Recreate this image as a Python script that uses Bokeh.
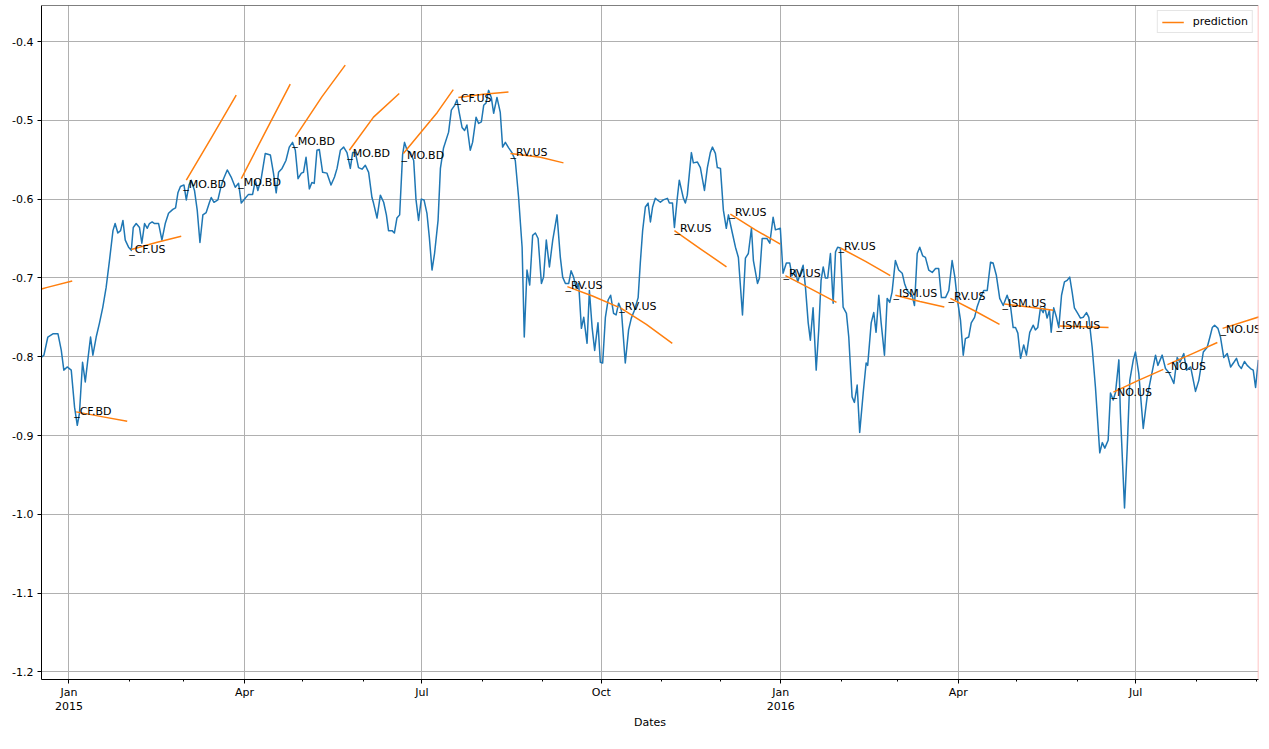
import numpy as np
import pandas as pd
from bokeh.plotting import figure
from bokeh.models import (Range1d, FixedTicker, PrintfTickFormatter, Span,
                          ColumnDataSource, Legend, LegendItem)
from bokeh.core.properties import value
from bokeh.embed import file_html
from bokeh.resources import INLINE

# ---------------- data ----------------
ORIGIN = "2015-01-01"   # series_day / pred_day / label_day are days since this date

series_day = [
    -14.2, -12.8, -10.8, -8.2, -5.6, -3.9, -2.6, -0.9, 1.2, 2.9,
    4.3, 5.4, 7.0, 8.4, 9.7, 11.1, 12.3, 14.0, 15.7, 17.4,
    19.1, 20.8, 22.6, 23.7, 25.1, 26.5, 27.7, 28.9, 30.6, 32.0,
    33.0, 34.5, 36.2, 37.4, 38.8, 40.2, 41.3, 42.7, 43.9, 46.0,
    47.7, 49.4, 51.1, 53.3, 54.7, 55.9, 57.2, 59.0, 60.2, 61.6,
    62.7, 64.4, 65.8, 67.2, 68.7, 70.4, 72.1, 73.0, 74.4, 76.4,
    77.8, 79.0, 81.2, 83.2, 85.3, 87.0, 88.4, 90.4, 92.1, 94.2,
    95.6, 96.9, 98.6, 100.7, 103.3, 104.9, 106.3, 107.5, 109.3, 111.3,
    113.0, 114.7, 116.1, 117.5, 119.2, 120.3, 121.6, 123.3, 124.6, 125.8,
    127.2, 128.4, 130.1, 132.3, 134.4, 136.2, 137.5, 139.2, 140.9, 142.6,
    144.3, 145.5, 146.9, 148.5, 150.3, 152.0, 153.7, 155.4, 156.2, 158.0,
    159.7, 161.4, 162.8, 163.9, 165.7, 166.9, 168.2, 169.6, 171.1, 172.1,
    173.4, 175.1, 176.8, 178.0, 179.3, 180.7, 182.1, 183.6, 184.8, 186.2,
    187.5, 189.3, 190.5, 192.1, 194.7, 196.1, 197.8, 199.0, 200.2, 201.6,
    202.9, 204.1, 205.8, 207.0, 208.8, 210.1, 211.5, 212.7, 213.9, 215.2,
    216.6, 217.8, 219.5, 221.2, 222.4, 223.8, 225.5, 227.2, 228.9, 230.6,
    232.4, 233.5, 234.9, 236.3, 237.8, 239.2, 240.6, 242.3, 243.4, 244.8,
    246.4, 248.1, 250.3, 252.0, 253.2, 254.6, 256.3, 257.5, 258.8, 260.1,
    261.4, 262.8, 264.0, 265.7, 266.9, 268.3, 269.6, 271.3, 272.5, 273.7,
    275.1, 276.5, 277.8, 279.3, 280.6, 281.9, 283.3, 285.3, 287.0, 288.4,
    290.0, 291.9, 293.0, 294.2, 295.6, 297.0, 298.2, 299.3, 300.7, 303.3,
    304.8, 306.9, 307.9, 309.5, 310.5, 312.0, 313.0, 315.1, 316.1, 317.1,
    319.2, 320.2, 322.3, 323.8, 325.9, 327.4, 328.9, 330.0, 331.5, 332.5,
    334.1, 335.6, 337.1, 338.2, 340.2, 341.8, 343.3, 345.4, 346.9, 348.4,
    350.0, 351.0, 353.1, 354.1, 355.5, 358.0, 359.4, 361.1, 362.3, 364.8,
    366.2, 367.9, 369.6, 370.8, 372.5, 373.7, 375.1, 376.5, 377.7, 379.1,
    380.2, 381.6, 383.2, 384.5, 385.7, 386.8, 387.9, 389.1, 390.5, 391.9,
    393.1, 394.2, 395.6, 397.0, 398.7, 399.9, 401.6, 402.8, 404.2, 405.5,
    407.3, 408.8, 409.6, 411.4, 412.7, 413.9, 415.3, 416.5, 418.2, 419.6,
    420.9, 422.1, 423.8, 425.5, 427.3, 428.5, 429.8, 431.0, 432.4, 433.6,
    435.0, 436.3, 437.8, 439.2, 440.9, 442.7, 444.4, 446.0, 447.4, 449.5,
    451.2, 452.9, 454.3, 455.5, 457.2, 458.6, 459.7, 461.4, 462.7, 464.4,
    465.7, 467.4, 469.1, 470.9, 472.6, 473.9, 475.6, 477.3, 479.1, 481.1,
    482.8, 484.2, 485.4, 486.6, 488.0, 489.6, 491.0, 492.7, 494.5, 495.6,
    496.8, 498.2, 499.6, 500.4, 501.6, 502.8, 503.7, 505.0, 506.4, 507.6,
    509.0, 510.5, 511.9, 513.2, 514.5, 515.6, 517.3, 518.7, 520.1, 521.8,
    523.0, 524.7, 526.4, 527.6, 528.6, 529.9, 531.2, 532.9, 534.1, 535.5,
    536.7, 538.4, 539.2, 540.3, 541.3, 542.7, 544.0, 545.8, 546.9, 548.6,
    550.9, 552.9, 554.6, 557.2, 558.4, 560.6, 562.3, 564.0, 565.2, 566.6,
    568.3, 569.7, 571.7, 573.1, 575.2, 577.7, 579.4, 581.7, 583.7, 585.1,
    586.3, 587.5, 589.2, 590.5, 592.2, 594.0, 595.7, 597.4, 598.7, 599.9,
    601.2, 602.8, 604.2, 605.9, 607.3, 608.5, 609.9,
]

series_value = [
    -0.801, -0.798, -0.775, -0.771, -0.771, -0.792, -0.817, -0.813, -0.817, -0.864,
    -0.887, -0.872, -0.807, -0.832, -0.804, -0.775, -0.798, -0.775, -0.757, -0.737,
    -0.712, -0.678, -0.640, -0.631, -0.643, -0.640, -0.627, -0.652, -0.661, -0.665,
    -0.636, -0.631, -0.636, -0.656, -0.631, -0.637, -0.631, -0.629, -0.631, -0.631,
    -0.652, -0.631, -0.618, -0.613, -0.611, -0.592, -0.584, -0.582, -0.601, -0.582,
    -0.576, -0.589, -0.614, -0.655, -0.620, -0.617, -0.604, -0.598, -0.604, -0.601,
    -0.586, -0.576, -0.563, -0.572, -0.585, -0.580, -0.605, -0.599, -0.594, -0.594,
    -0.576, -0.589, -0.574, -0.542, -0.544, -0.567, -0.592, -0.566, -0.561, -0.551,
    -0.534, -0.528, -0.538, -0.574, -0.567, -0.566, -0.547, -0.587, -0.579, -0.580,
    -0.538, -0.537, -0.566, -0.567, -0.582, -0.572, -0.561, -0.538, -0.534, -0.541,
    -0.561, -0.541, -0.541, -0.560, -0.562, -0.557, -0.566, -0.598, -0.605, -0.624,
    -0.595, -0.604, -0.620, -0.640, -0.640, -0.643, -0.624, -0.620, -0.544, -0.528,
    -0.538, -0.541, -0.551, -0.601, -0.627, -0.600, -0.601, -0.618, -0.648, -0.690,
    -0.669, -0.627, -0.561, -0.535, -0.515, -0.487, -0.481, -0.474, -0.491, -0.509,
    -0.513, -0.506, -0.538, -0.528, -0.496, -0.504, -0.502, -0.481, -0.478, -0.462,
    -0.471, -0.491, -0.471, -0.490, -0.534, -0.528, -0.535, -0.541, -0.551, -0.598,
    -0.661, -0.775, -0.690, -0.709, -0.646, -0.643, -0.650, -0.707, -0.699, -0.652,
    -0.686, -0.652, -0.620, -0.674, -0.699, -0.707, -0.707, -0.691, -0.699, -0.713,
    -0.707, -0.764, -0.750, -0.783, -0.716, -0.763, -0.792, -0.757, -0.807, -0.808,
    -0.750, -0.728, -0.722, -0.745, -0.747, -0.732, -0.741, -0.808, -0.766, -0.751,
    -0.741, -0.725, -0.681, -0.640, -0.610, -0.605, -0.629, -0.610, -0.599, -0.604,
    -0.601, -0.599, -0.605, -0.605, -0.636, -0.598, -0.576, -0.599, -0.605, -0.595,
    -0.541, -0.554, -0.553, -0.560, -0.589, -0.560, -0.541, -0.534, -0.542, -0.560,
    -0.561, -0.614, -0.637, -0.620, -0.643, -0.661, -0.674, -0.747, -0.675, -0.669,
    -0.637, -0.678, -0.707, -0.700, -0.650, -0.650, -0.656, -0.623, -0.639, -0.637,
    -0.694, -0.681, -0.681, -0.697, -0.690, -0.705, -0.694, -0.684, -0.712, -0.757,
    -0.779, -0.738, -0.817, -0.766, -0.703, -0.686, -0.700, -0.700, -0.669, -0.732,
    -0.667, -0.661, -0.662, -0.737, -0.745, -0.775, -0.851, -0.858, -0.836, -0.896,
    -0.846, -0.808, -0.811, -0.757, -0.744, -0.769, -0.722, -0.757, -0.798, -0.726,
    -0.731, -0.718, -0.678, -0.690, -0.694, -0.707, -0.716, -0.719, -0.722, -0.735,
    -0.669, -0.661, -0.672, -0.674, -0.690, -0.693, -0.688, -0.688, -0.725, -0.725,
    -0.716, -0.678, -0.699, -0.726, -0.754, -0.798, -0.777, -0.775, -0.757, -0.750,
    -0.737, -0.725, -0.716, -0.716, -0.680, -0.681, -0.697, -0.726, -0.735, -0.722,
    -0.735, -0.763, -0.763, -0.770, -0.802, -0.785, -0.798, -0.769, -0.760, -0.766,
    -0.763, -0.738, -0.744, -0.737, -0.751, -0.741, -0.769, -0.738, -0.750, -0.763,
    -0.722, -0.705, -0.703, -0.699, -0.719, -0.738, -0.745, -0.751, -0.750, -0.744,
    -0.750, -0.788, -0.839, -0.884, -0.922, -0.909, -0.916, -0.906, -0.846, -0.855,
    -0.845, -0.804, -0.872, -0.935, -0.992, -0.915, -0.830, -0.804, -0.794, -0.821,
    -0.891, -0.851, -0.830, -0.798, -0.811, -0.798, -0.815, -0.820, -0.826, -0.834,
    -0.801, -0.807, -0.796, -0.817, -0.813, -0.844, -0.830, -0.794, -0.788, -0.775,
    -0.763, -0.760, -0.764, -0.775, -0.801, -0.796, -0.813, -0.807, -0.802, -0.811,
    -0.815, -0.806, -0.811, -0.815, -0.817, -0.839, -0.804,
]

# prediction segments: start / middle / end (day, value)
pred_day_start = [-24.0, 3.7, 32.0, 60.2, 88.4, 116.1, 143.8, 171.5, 199.7, 226.4, 255.6, 282.8,
                  310.5, 339.2, 367.4, 395.6, 423.8, 452.0, 479.7, 507.9, 535.6, 563.3, 591.6]
pred_day_mid = [-11.1, 16.8, 44.8, 73.1, 100.9, 129.8, 156.2, 188.9, 212.5, 241.8, 268.5, 296.1,
                323.8, 352.0, 380.5, 408.5, 436.4, 464.6, 492.3, 520.5, 548.4, 576.2, 604.4]
pred_day_end = [1.7, 29.9, 57.6, 85.8, 113.5, 141.7, 169.4, 197.1, 225.4, 253.6, 281.8, 309.4,
                337.2, 364.8, 393.6, 421.2, 448.9, 477.2, 504.8, 533.1, 561.2, 588.9, 617.2]
pred_val_start = [-0.721, -0.870, -0.664, -0.576, -0.574, -0.521, -0.538, -0.542, -0.471, -0.542,
                  -0.711, -0.738, -0.640, -0.619, -0.697, -0.662, -0.722, -0.726, -0.733, -0.761,
                  -0.845, -0.810, -0.764]
pred_val_mid = [-0.712, -0.876, -0.655, -0.522, -0.514, -0.470, -0.496, -0.490, -0.467, -0.547,
                -0.723, -0.759, -0.663, -0.639, -0.714, -0.679, -0.730, -0.742, -0.737, -0.762,
                -0.830, -0.796, -0.754]
pred_val_end = [-0.704, -0.882, -0.647, -0.468, -0.454, -0.430, -0.466, -0.461, -0.464, -0.554,
                -0.737, -0.783, -0.686, -0.657, -0.731, -0.697, -0.737, -0.759, -0.741, -0.763,
                -0.816, -0.782, -0.744]

# annotations (last observed point before each prediction)
label_name = ["CF.BD", "CF.US", "MO.BD", "MO.BD", "MO.BD", "MO.BD", "MO.BD", "CF.US",
              "RV.US", "RV.US", "RV.US", "RV.US", "RV.US", "RV.US", "RV.US", "ISM.US",
              "RV.US", "ISM.US", "ISM.US", "NO.US", "NO.US", "NO.US"]
label_day = [2.7, 30.9, 58.6, 86.8, 114.5, 142.7, 170.5, 198.1, 226.4, 254.6, 282.2,
             310.5, 338.7, 366.4, 394.6, 422.8, 451.0, 478.7, 506.4, 534.6, 562.3, 590.5]
label_value = [-0.869, -0.664, -0.581, -0.579, -0.527, -0.542, -0.545, -0.472, -0.541,
               -0.709, -0.736, -0.637, -0.617, -0.694, -0.660, -0.720, -0.724, -0.733,
               -0.760, -0.846, -0.813, -0.766]

y_tick_values = [-1.2, -1.1, -1.0, -0.9, -0.8, -0.7, -0.6, -0.5, -0.4]
x_tick_dates = ["2015-01-01", "2015-04-01", "2015-07-01", "2015-10-01",
                "2016-01-01", "2016-04-01", "2016-07-01"]
x_tick_labels = ["Jan\n2015", "Apr", "Jul", "Oct", "Jan\n2016", "Apr", "Jul"]
x_minor_dates = [f"{y}-{m:02d}-01" for y, m in
                 [(2015, m) for m in range(1, 13)] + [(2016, m) for m in range(1, 10)]]

# ---------------- helpers ----------------
DAY_MS = 86400000.0
origin_ms = pd.Timestamp(ORIGIN).value / 1e6


def to_ms(days):
    return origin_ms + np.asarray(days, dtype=float) * DAY_MS


def date_ms(s):
    return float(pd.Timestamp(s).value / 1e6)


FONT = "DejaVu Sans"
x_start, x_end = float(to_ms(-14.05)), float(to_ms(610.0))
y_start, y_end = -1.2096, -0.3543

p = figure(width=1253, height=734, x_axis_type="datetime",
           output_backend="svg", toolbar_location=None,
           x_range=Range1d(x_start, x_end), y_range=Range1d(y_start, y_end),
           min_border_left=33, min_border_right=3, min_border_top=0,
           min_border_bottom=60)
p.margin = (5, 0, 0, 8)
p.outline_line_color = None
p.background_fill_color = "white"
p.border_fill_color = "white"

# grid
for g in (p.xgrid, p.ygrid):
    g.grid_line_color = "#b0b0b0"
    g.grid_line_width = 1

# series
n = min(len(series_day), len(series_value))
p.line(to_ms(series_day[:n]), series_value[:n], line_color="#1f77b4",
       line_width=1.5, line_join="round")

xs = [list(to_ms([a, b, c])) for a, b, c in zip(pred_day_start, pred_day_mid, pred_day_end)]
ys = [[a, b, c] for a, b, c in zip(pred_val_start, pred_val_mid, pred_val_end)]
pred = p.multi_line(xs, ys, line_color="#ff7f0e", line_width=1.5, line_join="round")

src = ColumnDataSource(dict(x=to_ms(label_day), y=label_value,
                            t=["_" + s for s in label_name]))
p.text("x", "y", text="t", source=src, text_font=value(FONT),
       text_font_size=value("11px"), text_color="black",
       text_align="left", text_baseline="alphabetic")

# frame edges
p.add_layout(Span(location=y_end, dimension="width", line_color="black", line_width=1))
p.add_layout(Span(location=x_end, dimension="height", line_color="#ffb0b0", line_width=1.5))

# axes
major_ms = [date_ms(d) for d in x_tick_dates]
minor_ms = [date_ms(d) for d in x_minor_dates]
p.xaxis.ticker = FixedTicker(ticks=major_ms, minor_ticks=minor_ms)
p.xaxis.major_label_overrides = {m: lab for m, lab in zip(major_ms, x_tick_labels)}
p.yaxis.ticker = FixedTicker(ticks=y_tick_values)
p.yaxis.formatter = PrintfTickFormatter(format="%.1f")

for ax in (p.xaxis[0], p.yaxis[0]):
    ax.axis_line_color = "black"
    ax.axis_line_width = 1
    ax.major_tick_line_color = "black"
    ax.minor_tick_line_color = "black"
    ax.major_tick_in = 0
    ax.major_tick_out = 4
    ax.minor_tick_in = 0
    ax.minor_tick_out = 2
    ax.major_label_text_font = FONT
    ax.major_label_text_font_size = "11px"
    ax.major_label_text_color = "black"
    ax.major_label_standoff = 4
    ax.axis_label_text_font = FONT
    ax.axis_label_text_font_size = "11px"
    ax.axis_label_text_font_style = "normal"
    ax.axis_label_text_color = "black"
p.yaxis.minor_tick_out = 0
p.xaxis.major_label_standoff = 2
p.xaxis.major_label_text_line_height = 1.1
p.xaxis.axis_label = "Dates"
p.xaxis.axis_label_standoff = 0

legend = Legend(items=[LegendItem(label="prediction", renderers=[pred])],
                location="top_right", margin=5, padding=4, spacing=0,
                glyph_width=22, glyph_height=12, label_height=12, label_standoff=9,
                label_text_font=FONT, label_text_font_size="11px",
                label_text_color="black", border_line_color="#cccccc",
                border_line_width=1, background_fill_alpha=0.8)
p.add_layout(legend)

open("out.html", "w").write(file_html(p, INLINE))
